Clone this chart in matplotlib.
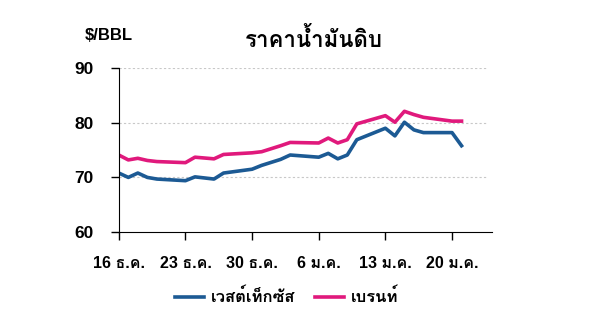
import numpy as np
import pandas as pd
import matplotlib
matplotlib.use('Agg')
from matplotlib import pyplot as plt
from matplotlib import font_manager as fm
from matplotlib.ft2font import FT2Font

# find a font that has thai glyphs
thai_fonts = []
for f in fm.fontManager.ttflist:
    try:
        ft = FT2Font(f.fname)
        if ord('ร') in ft.get_charmap():
            if f.name not in thai_fonts:
                thai_fonts.append(f.name)
    except Exception:
        pass

dates = ["2024-12-16", "2024-12-17", "2024-12-18", "2024-12-19", "2024-12-20",
         "2024-12-23", "2024-12-24", "2024-12-26", "2024-12-27", "2024-12-30",
         "2024-12-31", "2025-01-02", "2025-01-03", "2025-01-06", "2025-01-07",
         "2025-01-08", "2025-01-09", "2025-01-10", "2025-01-13", "2025-01-14",
         "2025-01-15", "2025-01-16", "2025-01-17", "2025-01-20", "2025-01-21"]
wti = [70.8, 70.0, 70.8, 70.0, 69.7, 69.4, 70.1, 69.7, 70.8, 71.5,
       72.2, 73.3, 74.1, 73.7, 74.4, 73.4, 74.1, 76.9, 79.0, 77.6,
       80.1, 78.7, 78.2, 78.2, 75.8]
brent = [74.1, 73.2, 73.5, 73.1, 72.9, 72.7, 73.7, 73.4, 74.2, 74.5,
         74.7, 75.8, 76.4, 76.3, 77.2, 76.3, 76.9, 79.8, 81.3, 80.1,
         82.1, 81.5, 81.0, 80.3, 80.3]
tick_dates = ["2024-12-16", "2024-12-23", "2024-12-30", "2025-01-06", "2025-01-13", "2025-01-20"]
tick_labels = ["16 ธ.ค.", "23 ธ.ค.", "30 ธ.ค.", "6 ม.ค.", "13 ม.ค.", "20 ม.ค."]

# latin glyphs from Liberation Sans, thai glyphs fall back to the thai font
fam = ['Liberation Sans'] + thai_fonts[:1] + ['DejaVu Sans']
plt.rcParams['font.family'] = fam

df = pd.DataFrame({'wti': wti, 'brent': brent}, index=pd.to_datetime(dates))

fig = plt.figure(figsize=(6, 3.14), dpi=100)
ax = fig.add_axes([0.198, 0.261, 0.622, 0.522])

blue = '#1c5a94'
pink = '#e0197c'
ax.plot(df.index, df['wti'], color=blue, lw=2.6, label='เวสต์เท็กซัส')
ax.plot(df.index, df['brent'], color=pink, lw=2.6, label='เบรนท์')

start = pd.Timestamp("2024-12-16")
ax.set_xlim(start, start + pd.Timedelta(days=39.2))
ax.set_ylim(60, 90)
ax.set_yticks([60, 70, 80, 90])
for v in [70, 80, 90]:
    ax.axhline(v, xmax=0.985, color='#c8c8c8', lw=0.8, ls=(0, (2, 2)), zorder=0)
ax.set_xticks(pd.to_datetime(tick_dates))
ax.set_xticklabels(tick_labels)
ax.spines['top'].set_visible(False)
ax.spines['right'].set_visible(False)
ax.tick_params(axis='both', direction='out', length=6, width=1)
ax.tick_params(axis='y', labelsize=12.5, pad=12)
ax.tick_params(axis='x', labelsize=11.5, pad=11)
for lab in ax.get_xticklabels() + ax.get_yticklabels():
    lab.set_fontweight('bold')

fig.text(0.523, 0.877, 'ราคาน้ำมันดิบ', ha='center', va='center', fontsize=16, fontweight='bold',
         family=thai_fonts[:1] + ['DejaVu Sans'])
fig.text(0.142, 0.888, '$/BBL', ha='left', va='center', fontsize=12, fontweight='bold')

leg = fig.legend(loc='center', bbox_to_anchor=(0.478, 0.055), ncol=2, frameon=False,
                 handlelength=1.75, columnspacing=1.2, handletextpad=0.4,
                 prop={'size': 12, 'weight': 'bold'})

plt.savefig('out.png', dpi=100)
